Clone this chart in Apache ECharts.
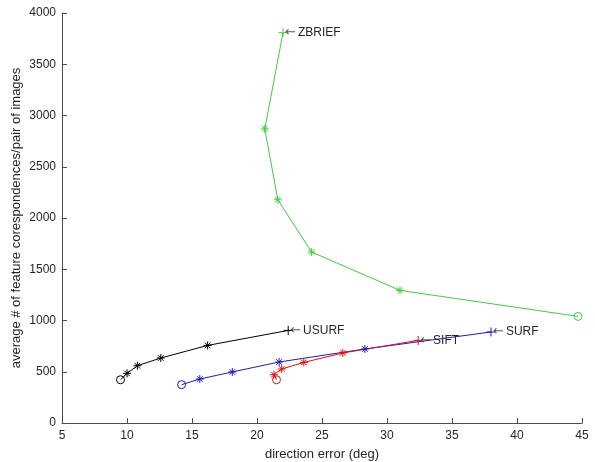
<!DOCTYPE html>
<html>
<head>
<meta charset="utf-8">
<script src="https://cdn.jsdelivr.net/npm/echarts@6/dist/echarts.min.js"></script>
<style>
  html, body { margin: 0; padding: 0; background: #fff; }
  #chart { width: 595px; height: 462px; }
</style>
</head>
<body>
<div id="chart"></div>
<script>
// values
const zbriefX = [44.7, 31.0, 24.2, 21.6, 20.6, 22.0]
const zbriefY = [1040, 1294, 1668, 2178, 2870, 3808]
const usurfX = [9.5, 10.0, 10.8, 12.6, 16.2, 22.4]
const usurfY = [422, 484, 559, 634, 757, 903]
const surfX = [14.2, 15.6, 18.1, 21.7, 28.3, 38.0]
const surfY = [374, 429, 498, 595, 722, 888]
const siftX = [21.5, 21.3, 21.9, 23.6, 26.6, 32.4]
const siftY = [422, 471, 527, 591, 683, 806]
const xTicks = [5, 10, 15, 20, 25, 30, 35, 40, 45]
const yTicks = [0, 500, 1000, 1500, 2000, 2500, 3000, 3500, 4000]

const star = 'path://M0,5L10,5M5,0L5,10M1.5,1.5L8.5,8.5M8.5,1.5L1.5,8.5'
const plus = 'path://M0,5L10,5M5,0L5,10'
const ring = 'path://M10,5A5,5,0,1,1,0,5A5,5,0,1,1,10,5Z'
const font = 'Liberation Sans, Arial, sans-serif'

function makeSeries (name, xs, ys, color) {
  const data = xs.map((x, i) => {
    const item = { value: [x, ys[i]] }
    if (i === 0) {
      item.symbol = ring
      item.symbolSize = 8
      item.itemStyle = { color: 'rgba(255,255,255,0)', borderColor: color, borderWidth: 1 }
    } else if (i === xs.length - 1) {
      item.symbol = plus
      item.symbolSize = 9
      item.label = {
        show: true,
        position: 'right',
        distance: -3,
        formatter: '{a|\u2190}' + name,
        color: '#262626',
        fontSize: 12,
        fontFamily: font,
        rich: {
          a: { fontFamily: 'DejaVu Sans', fontSize: 13, color: '#555', padding: [0, 2, 0, 0] }
        }
      }
    }
    return item
  })
  return {
    name: name,
    type: 'line',
    data: data,
    symbol: star,
    symbolSize: 8,
    showAllSymbol: true,
    lineStyle: { color: color, width: 1 },
    itemStyle: { color: color, borderColor: color, borderWidth: 1 },
    emphasis: { disabled: true },
    animation: false
  }
}

const axisStyle = {
  axisLine: { show: true, lineStyle: { color: '#4d4d4d', width: 1 } },
  axisTick: { show: true, inside: true, length: 5, lineStyle: { color: '#4d4d4d' } },
  splitLine: { show: false },
  nameMoveOverlap: false,
  nameTextStyle: { color: '#262626', fontSize: 13, fontFamily: font }
}

const chart = echarts.init(document.getElementById('chart'))
chart.setOption({
  backgroundColor: '#fff',
  grid: { left: 62, right: 13, top: 13, bottom: 39, outerBoundsMode: 'none' },
  xAxis: Object.assign({
    type: 'value',
    min: xTicks[0],
    max: xTicks[xTicks.length - 1],
    interval: xTicks[1] - xTicks[0],
    name: 'direction error (deg)',
    nameLocation: 'middle',
    nameGap: 25,
    axisLabel: { color: '#262626', fontSize: 12, fontFamily: font, margin: 7 }
  }, axisStyle),
  yAxis: Object.assign({
    type: 'value',
    min: yTicks[0],
    max: yTicks[yTicks.length - 1],
    interval: yTicks[1] - yTicks[0],
    name: 'average # of feature corespondences/pair of images',
    nameLocation: 'middle',
    nameGap: 39,
    axisLabel: { color: '#262626', fontSize: 12, fontFamily: font, margin: 6, formatter: v => String(v) }
  }, axisStyle),
  series: [
    makeSeries('ZBRIEF', zbriefX, zbriefY, '#3fcf3f'),
    makeSeries('USURF', usurfX, usurfY, '#000000'),
    makeSeries('SURF', surfX, surfY, '#1a1acc'),
    makeSeries('SIFT', siftX, siftY, '#e01010')
  ]
})
</script>
</body>
</html>
